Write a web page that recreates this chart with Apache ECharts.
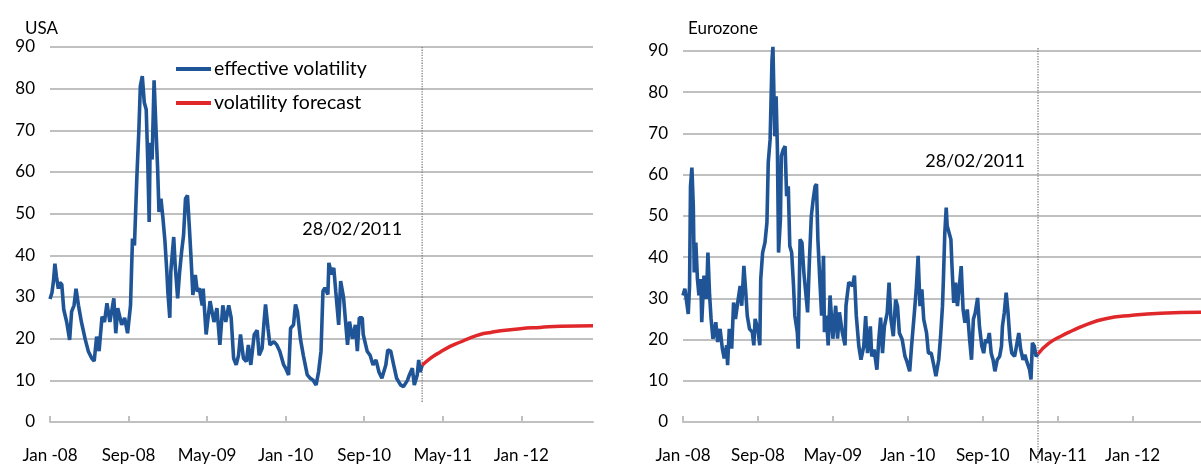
<!DOCTYPE html>
<html><head><meta charset="utf-8">
<script src="https://cdn.jsdelivr.net/npm/echarts@6/dist/echarts.min.js"></script>
<style>html,body{margin:0;padding:0;background:#fff}#c{width:1201px;height:464px}</style>
</head><body><div id="c"></div>
<script>
// x values are months since Jan 2008
const xTickLabels = ['Jan -08','Sep-08','May-09','Jan -10','Sep-10','May-11','Jan -12'];
const xTickValues = [0,8,16,24,32,40,48];
const forecastDate = 37.9; // 28/02/2011
const forecastLabel = '28/02/2011';
const usaMarkerSpan = [90, 4.8];
const eurMarkerSpan = [90.7, -10];

const usaMonths = [0,0.2,0.35,0.5,0.65,0.85,1.0,1.2,1.4,1.7,2.0,2.2,2.45,2.65,2.9,3.2,3.6,3.9,4.25,4.5,4.75,5.0,5.3,5.55,5.8,6.1,6.5,6.7,6.9,7.3,7.6,7.9,8.2,8.4,8.6,8.85,9.05,9.2,9.4,9.6,9.8,9.95,10.1,10.2,10.4,10.6,10.8,10.95,11.1,11.3,11.5,11.7,11.9,12.0,12.2,12.3,12.6,12.75,13.0,13.2,13.4,13.6,13.8,14.0,14.2,14.35,14.55,14.8,15.0,15.2,15.5,15.6,15.9,16.3,16.7,17.0,17.3,17.6,17.9,18.2,18.45,18.7,18.96,19.2,19.4,19.7,20.0,20.2,20.45,20.8,21.1,21.3,21.6,21.8,21.95,22.2,22.4,22.8,23.1,23.4,23.8,24.0,24.3,24.5,24.8,25.0,25.2,25.5,25.8,26.2,26.5,26.8,27.1,27.35,27.6,27.8,28.0,28.3,28.4,28.7,28.9,29.1,29.4,29.6,29.9,30.1,30.3,30.5,30.8,31.1,31.3,31.5,31.8,31.9,32.3,32.6,32.9,33.2,33.5,33.8,34.2,34.4,34.7,35.0,35.3,35.7,36.0,36.4,36.6,36.9,37.1,37.4,37.55,37.7,37.9];
const usaVol = [29.5,31,33.7,38,35,32,33.5,33,27,24,19.7,26.5,28,32,28,24,19.7,17,15.3,14.6,20.5,17,25.3,24,28.5,24,29.7,21.3,27.3,23.3,25,21.3,28,44,42.4,59,70,80.6,83,76.7,75,63,48,67,63,82,70,61.5,50.4,53.6,49,43.6,36,31.3,25,36,44.4,37.6,29.7,36,40.8,44.8,53.6,54.4,46.4,40,30.5,35.3,31.3,32.1,28,32,21,29,24,27.3,18.5,28,24,28,25,15.3,13.7,16,21,15.3,14.5,18.5,13.7,21,22,16,17.7,24,28.2,22.5,18.5,19.3,18.5,17,13.7,12.9,11.3,22.5,23.3,28.2,26.5,20,16,11.3,10.5,10,8.9,12,17,31.4,32.2,30.6,38.2,35.4,37,31.4,23.3,33.8,29.8,24.1,18.5,24.1,20,23.3,17,25,25,21,17,16,13.7,14.9,12,10.5,13.7,17.3,17,13.7,10.5,8.9,8.5,10,11.3,12.9,8.9,11.3,14.9,12,13.6];
const usaFcMonths = [37.9,38.8,39.75,40.8,41.8,42.8,43.8,44.9,45.9,47.9,49.9,52,55.3];
const usaFcVol = [13.6,15.4,16.8,18.2,19.2,20.2,21,21.5,21.9,22.4,22.7,23,23.1];

const eurMonths = [0,0.2,0.4,0.56,0.7,0.8,0.95,1.1,1.2,1.37,1.54,1.7,1.9,2.0,2.24,2.5,2.66,2.84,3.0,3.2,3.36,3.5,3.7,3.96,4.2,4.4,4.66,4.76,4.94,5.2,5.4,5.6,5.9,6.1,6.27,6.5,6.7,6.86,7.1,7.4,7.56,7.7,7.98,8.2,8.3,8.5,8.75,8.96,9.1,9.3,9.5,9.6,9.8,9.94,10.08,10.2,10.4,10.5,10.7,10.9,11.06,11.24,11.4,11.6,11.8,11.94,12.2,12.3,12.5,12.7,12.9,13.1,13.3,13.5,13.7,13.9,14.1,14.25,14.4,14.6,14.8,15.0,15.1,15.3,15.5,15.7,16.0,16.3,16.5,16.7,17.0,17.3,17.4,17.7,18.1,18.3,18.5,18.77,19.0,19.3,19.5,19.7,20.0,20.15,20.4,20.7,20.9,21.1,21.3,21.5,21.8,22.0,22.2,22.45,22.7,22.9,23.1,23.4,23.7,23.9,24.2,24.4,24.7,24.9,25.1,25.3,25.5,25.7,26.0,26.2,26.5,26.8,27.0,27.3,27.5,27.7,27.8,27.95,28.1,28.2,28.4,28.6,28.7,28.9,29.1,29.3,29.5,29.7,29.9,30.1,30.35,30.6,30.8,31.0,31.2,31.45,31.65,31.9,32.1,32.3,32.5,32.7,32.9,33.1,33.3,33.55,33.8,34.0,34.1,34.3,34.5,34.7,34.9,35.1,35.4,35.6,35.85,36.05,36.3,36.5,36.7,37.0,37.15,37.3,37.5,37.7,37.9];
const eurVol = [30.7,32.3,29,26.2,33,57.2,61.7,52.4,36.3,43.5,34.7,30.7,34.7,24.2,35.5,29.9,41.1,30.7,25,20.2,21.8,24.2,19.4,22.6,17.8,15.4,18.6,13.8,22.6,17.8,29,25,29.9,33,28.2,37.9,31.5,25.8,22.6,21.8,18.6,25,22.6,18.6,34.7,41.1,43.5,48.4,62.9,68.5,87.8,91,69.3,79,66.1,41.1,49.2,64.5,66.1,66.9,54.8,57.2,42.7,41.1,33,25.8,21.8,17.8,44.3,43.5,36.3,31.5,26.6,39.5,50,54,57.2,57.7,44.3,34.7,25.8,40.3,21.8,25.8,18.6,30.7,20.2,28.2,20.2,26.6,21.8,18.6,28.2,33.9,33,35.5,25.8,18.4,15.1,18.4,25.7,16.7,23.2,15.9,17.6,12.7,20,25.3,16.7,23.2,26.5,33.8,24.9,20.8,29.7,28.1,21.6,20,15.9,14.7,12.3,18.4,26.5,32.2,40.3,28.1,32.2,24.9,21.6,16.7,16.7,13.5,11.1,15.1,20.8,28.1,34.6,45.9,52,47.6,47.6,44.3,38.6,28.9,33.8,28.1,28.1,37.8,27.3,24.1,27.3,20,15.1,24.9,26.5,30.1,23.2,18.4,16.7,20,19.2,21.6,16.7,15.1,12.3,15.1,15.9,18.4,23.2,26.5,31.4,26.5,20,16.7,15.9,18.4,21.6,17.6,15.1,16.3,14.7,12.7,10.3,19.2,18.4,15.9,16.5];
const eurFcMonths = [37.9,39.0,40.5,41.6,42.8,45,48,51,55.3];
const eurFcVol = [16.5,19,21,22.2,23.4,25,25.9,26.4,26.6];

const zip = (xs, ys) => xs.map((x, i) => [x, ys[i]]);
const BLUE = '#1F5596', RED = '#E0282B', GRID = '#C0C0C0', FONT = 'Lato';

function xAxis(idx) {
  return {
    type: 'value', gridIndex: idx, min: 0, max: 55.3,
    axisLine: { show: true, lineStyle: { color: GRID, width: 2 } },
    axisTick: { show: true, inside: true, length: 6, customValues: xTickValues, lineStyle: { color: GRID, width: 2 } },
    axisLabel: { customValues: xTickValues, margin: 25, fontFamily: FONT, fontSize: 17, color: '#000',
      formatter: v => xTickLabels[Math.round(v / 8)] || '' },
    splitLine: { show: false }
  };
}
function yAxis(idx) {
  return {
    type: 'value', gridIndex: idx, min: 0, max: 90, interval: 10,
    axisLine: { show: false }, axisTick: { show: false },
    axisLabel: { margin: 15, fontFamily: FONT, fontSize: 17, color: '#000' },
    splitLine: { lineStyle: { color: GRID, width: 2 } }
  };
}
function datePoint(y, dist) {
  return { silent: true, symbol: 'circle', symbolSize: 0,
    label: { show: true, position: 'left', distance: dist, formatter: forecastLabel, fontFamily: FONT, fontSize: 18, color: '#000' },
    data: [{ coord: [forecastDate, y] }] };
}
function marker(idx, span) {
  return { name: 'date', type: 'line', xAxisIndex: idx, yAxisIndex: idx, silent: true, z: 1,
    data: span.map(v => [forecastDate, v]), showSymbol: false, clip: false,
    lineStyle: { type: 'dotted', color: '#7F7F7F', width: 1.3 } };
}

const chart = echarts.init(document.getElementById('c'));
chart.setOption({
  animation: false,
  textStyle: { fontFamily: FONT },
  title: [
    { text: 'USA', left: 25, top: 20, padding: 0, textStyle: { fontFamily: FONT, fontSize: 17, fontWeight: 'normal', color: '#000' } },
    { text: 'Eurozone', left: 688, top: 20, padding: 0, textStyle: { fontFamily: FONT, fontSize: 17, fontWeight: 'normal', color: '#000' } }
  ],
  legend: {
    orient: 'vertical', left: 176, top: 59, padding: 0, itemGap: 14,
    icon: 'rect', itemWidth: 35, itemHeight: 4,
    data: ['effective volatility', 'volatility forecast'],
    textStyle: { fontFamily: FONT, fontSize: 19.5, color: '#000', padding: [0, 0, 0, -2] }
  },
  grid: [
    { left: 50, top: 47, width: 543, height: 378 },
    { left: 683, top: 51, width: 526, height: 372.5 }
  ],
  xAxis: [xAxis(0), xAxis(1)],
  yAxis: [yAxis(0), yAxis(1)],
  series: [
    marker(0, usaMarkerSpan),
    marker(1, eurMarkerSpan),
    { name: 'effective volatility', type: 'line', xAxisIndex: 0, yAxisIndex: 0, data: zip(usaMonths, usaVol),
      showSymbol: false, clip: false, lineStyle: { color: BLUE, width: 3.6 }, itemStyle: { color: BLUE },
      markPoint: datePoint(46.3, 20) },
    { name: 'volatility forecast', type: 'line', xAxisIndex: 0, yAxisIndex: 0, data: zip(usaFcMonths, usaFcVol),
      showSymbol: false, smooth: true, clip: false, lineStyle: { color: RED, width: 3.5 }, itemStyle: { color: RED } },
    { name: 'effective volatility', type: 'line', xAxisIndex: 1, yAxisIndex: 1, data: zip(eurMonths, eurVol),
      showSymbol: false, clip: false, lineStyle: { color: BLUE, width: 3.6 }, itemStyle: { color: BLUE },
      markPoint: datePoint(63.2, 13) },
    { name: 'volatility forecast', type: 'line', xAxisIndex: 1, yAxisIndex: 1, data: zip(eurFcMonths, eurFcVol),
      showSymbol: false, smooth: true, clip: false, lineStyle: { color: RED, width: 3.5 }, itemStyle: { color: RED } }
  ]
});
</script></body></html>
